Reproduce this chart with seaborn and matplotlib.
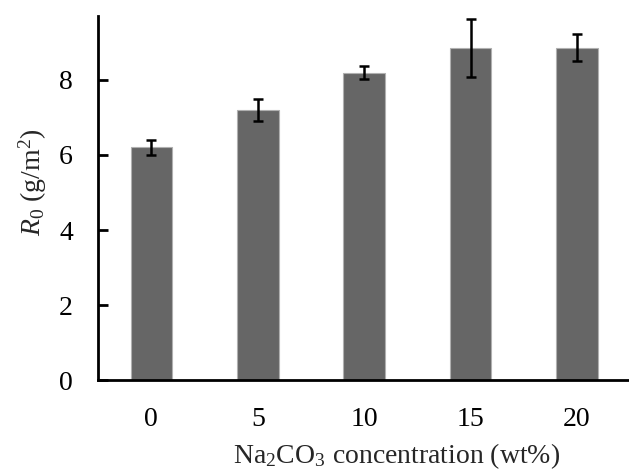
import matplotlib
matplotlib.use("Agg")
import matplotlib.pyplot as plt
import pandas as pd
import seaborn as sns

concentrations = ["0", "5", "10", "15", "20"]
r0_values = [6.2, 7.2, 8.19, 8.85, 8.86]
r0_errors = [0.2, 0.3, 0.17, 0.77, 0.35]

sns.set_theme(style="white")
plt.rcParams["font.family"] = ["Liberation Serif", "DejaVu Serif"]
plt.rcParams["mathtext.fontset"] = "custom"
plt.rcParams["mathtext.rm"] = "Liberation Serif"
plt.rcParams["mathtext.it"] = "Liberation Serif:italic"

df = pd.DataFrame({"conc": concentrations, "r0": r0_values})

fig = plt.figure(figsize=(6.29, 4.70), dpi=100)
ax = fig.add_axes([0.156, 0.191, 0.846, 0.775])

sns.barplot(data=df, x="conc", y="r0", color="#666666", saturation=1,
            width=0.39, edgecolor="#b0b0b0", linewidth=0.8, ax=ax)
ax.errorbar(range(len(concentrations)), r0_values, yerr=r0_errors,
            fmt="none", ecolor="black", elinewidth=1.8, capsize=3.5,
            capthick=1.8, zorder=5)

ax.set_xlim(-0.5, 4.5)
ax.set_ylim(0, 9.7)
ax.set_yticks([0, 2, 4, 6, 8])
for side in ["top", "right"]:
    ax.spines[side].set_visible(False)
for side in ["left", "bottom"]:
    ax.spines[side].set_linewidth(2)
    ax.spines[side].set_color("black")

ax.tick_params(axis="y", direction="in", length=7, width=2, labelsize=20,
               left=True, pad=18, colors="black")
ax.tick_params(axis="x", length=0, labelsize=20, pad=19, colors="black")

ax.set_xlabel(r"Na$_2$CO$_3$ concentration (wt%)", fontsize=20)
ax.xaxis.set_label_coords(0.561, -0.168)
ax.set_ylabel(r"$R_{\mathit{0}}$ (g/m$^2$)", fontsize=20)
ax.yaxis.set_label_coords(-0.092, 0.544)

fig.savefig("out.png", dpi=100)
